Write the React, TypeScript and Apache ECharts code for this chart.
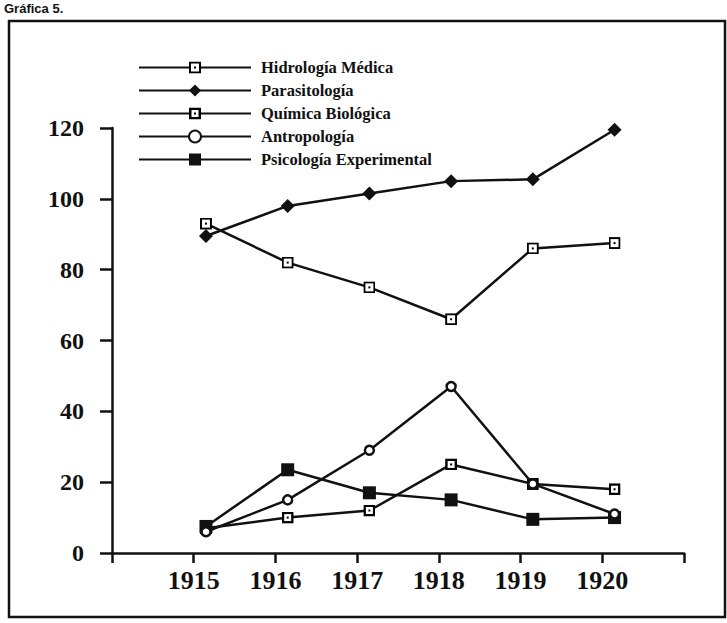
import React, { useEffect, useRef } from "react";
import * as echarts from "echarts";

const years = [1915, 1916, 1917, 1918, 1919, 1920];
const axisTicks = [1914, 1915, 1916, 1917, 1918, 1919, 1920, 1921];
const hidrologia = [93, 82, 75, 66, 86, 87.5];
const parasitologia = [89.5, 98, 101.5, 105, 105.5, 119.5];
const quimica = [7, 10, 12, 25, 19.5, 18];
const antropologia = [6, 15, 29, 47, 19.5, 11];
const psicologia = [7.5, 23.5, 17, 15, 9.5, 10];
const seriesNames = [
  "Hidrología Médica",
  "Parasitología",
  "Química Biológica",
  "Antropología",
  "Psicología Experimental",
];

const sqDot = (sw: number) =>
  "image://data:image/svg+xml;charset=utf-8," +
  encodeURIComponent(
    `<svg xmlns='http://www.w3.org/2000/svg' width='24' height='24' viewBox='0 0 24 24'><rect x='${sw / 2}' y='${sw / 2}' width='${24 - sw}' height='${24 - sw}' fill='white' stroke='black' stroke-width='${sw}'/><rect x='10' y='10' width='4' height='4' fill='black'/></svg>`
  );

const pair = (vals: number[]) => years.map((y, i) => [y, vals[i]]);

export default function App() {
  const ref = useRef<HTMLDivElement>(null);
  useEffect(() => {
    if (!ref.current) return;
    const chart = echarts.init(ref.current, null, { renderer: "svg" });
    const ink = "#111";
    const lineStyle = { color: ink, width: 2.5 };
    const font = "'Liberation Serif', 'Times New Roman', serif";
    chart.setOption({
      animation: false,
      backgroundColor: "#fff",
      grid: {
        left: 112,
        right: 43,
        top: 128,
        bottom: 70,
        outerBoundsMode: "none",
      },
      legend: {
        orient: "vertical",
        left: 133,
        top: 54,
        itemWidth: 112,
        itemHeight: 15,
        itemGap: 6,
        data: seriesNames,
        textStyle: {
          fontFamily: font,
          fontWeight: "bold",
          fontSize: 16.5,
          color: ink,
          padding: [0, 0, 0, 5],
        },
      },
      xAxis: [
        {
          type: "value",
          min: 1913.85,
          max: 1920.85,
          position: "top",
          show: false,
        },
        {
          type: "value",
          min: axisTicks[0],
          max: axisTicks[axisTicks.length - 1],
          interval: 1,
          position: "bottom",
          axisLine: { show: true, lineStyle: { color: ink, width: 2.5 } },
          axisTick: { show: true, length: 10, lineStyle: { color: ink, width: 2.5 } },
          splitLine: { show: false },
          axisLabel: {
            margin: 14,
            fontFamily: font,
            fontWeight: "bold",
            fontSize: 26,
            color: ink,
            formatter: (v: number) => (years.includes(v) ? String(v) : ""),
          },
        },
      ],
      yAxis: {
        type: "value",
        min: 0,
        max: 120,
        interval: 20,
        axisLine: { show: true, lineStyle: { color: ink, width: 2.5 } },
        axisTick: { show: true, length: 12, lineStyle: { color: ink, width: 2.5 } },
        splitLine: { show: false },
        axisLabel: {
          margin: 28,
          fontFamily: font,
          fontWeight: "bold",
          fontSize: 24,
          color: ink,
        },
      },
      series: [
        {
          name: seriesNames[0],
          type: "line",
          xAxisIndex: 0,
          data: pair(hidrologia),
          symbol: sqDot(4),
          symbolSize: 12,
          lineStyle,
          itemStyle: { color: ink },
          z: 3,
        },
        {
          name: seriesNames[1],
          type: "line",
          xAxisIndex: 0,
          data: pair(parasitologia),
          symbol: "diamond",
          symbolSize: 14,
          lineStyle,
          itemStyle: { color: ink },
        },
        {
          name: seriesNames[2],
          type: "line",
          xAxisIndex: 0,
          data: pair(quimica),
          symbol: sqDot(5),
          symbolSize: 12,
          lineStyle,
          itemStyle: { color: ink },
          z: 3,
        },
        {
          name: seriesNames[3],
          type: "line",
          xAxisIndex: 0,
          data: pair(antropologia),
          symbol: "circle",
          symbolSize: 9,
          lineStyle,
          itemStyle: { color: "#fff", borderColor: ink, borderWidth: 2.5 },
          z: 4,
        },
        {
          name: seriesNames[4],
          type: "line",
          xAxisIndex: 0,
          data: pair(psicologia),
          symbol: "rect",
          symbolSize: 13,
          lineStyle,
          itemStyle: { color: ink },
        },
      ],
      graphic: [
        {
          type: "rect",
          shape: { x: 9, y: 21, width: 716, height: 596 },
          style: { fill: "none", stroke: ink, lineWidth: 2.5 },
          silent: true,
        },
        {
          type: "text",
          x: 4,
          y: 2,
          style: {
            text: "Gráfica 5.",
            fontFamily: "'Liberation Sans', Arial, sans-serif",
            fontWeight: "bold",
            fontSize: 13,
            fill: ink,
          },
        },
      ],
    });
    return () => chart.dispose();
  }, []);
  return (
    <div
      ref={ref}
      style={{ width: 727, height: 623, position: "absolute", left: 0, top: 0 }}
    />
  );
}
